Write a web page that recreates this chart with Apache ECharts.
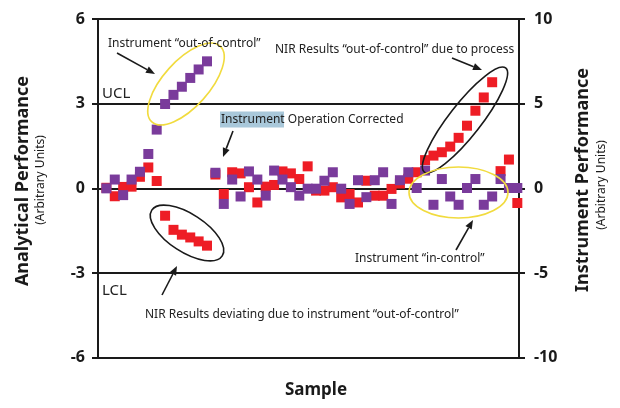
<!DOCTYPE html>
<html><head><meta charset="utf-8">
<script src="https://cdn.jsdelivr.net/npm/echarts@6/dist/echarts.min.js"></script>
<style>html,body{margin:0;padding:0;background:#fff}#c{width:620px;height:408px}</style>
</head><body><div id="c"></div>
<script>
// Sample numbers (x)
const samples = [1,2,3,4,5,6,7,8,9,10,11,12,13,14,15,16,17,18,19,20,21,22,23,24,25,
                 26,27,28,29,30,31,32,33,34,35,36,37,38,39,40,41,42,43,44,45,46,47,48,49,50];
// NIR results (red) – left axis, Analytical Performance
const analytical = [0.02,-0.28,0.05,0.06,0.41,0.74,0.26,-0.97,-1.47,-1.64,-1.74,-1.88,-2.03,0.49,-0.2,
                    0.57,0.53,0.04,-0.5,0.06,0.12,0.6,0.53,0.33,0.78,-0.08,-0.08,0.04,-0.32,-0.2,
                    -0.5,0.27,-0.26,-0.26,-0.02,0.17,0.34,0.57,1.0,1.16,1.28,1.48,1.79,2.22,2.75,
                    3.22,3.76,0.61,1.02,-0.52];
// Instrument (purple) – right axis, Instrument Performance
const instrument = [0,0.52,-0.4,0.52,0.98,2.03,3.47,4.98,5.52,6.0,6.52,7.02,7.5,0.92,-0.92,
                    0.52,-0.48,1.0,0.52,-0.43,1.05,0.52,0.07,-0.43,-0.02,-0.02,0.45,0.95,-0.02,-0.92,
                    0.48,-0.52,0.48,0.95,-0.92,0.48,0.95,0.02,1.05,-0.97,0.55,-0.48,-0.97,0.02,0.55,
                    -0.97,-0.48,0.55,0.02,0.02];
const leftTicks = [-6,-3,0,3,6];
const rightTicks = [-10,-5,0,5,10];

const FONT = '"Noto Sans", "DejaVu Sans", sans-serif';
const INK = '#1a1a1a';
const RED = '#ee1d25';
const PURPLE = '#7a3b9b';
const YELLOW = '#f1db3e';

function pairs(ys){ return samples.map((s,i)=>[s, ys[i]]); }

function arrow(x1,y1,x2,y2){
  const a = Math.atan2(y2-y1, x2-x1), L = 9, W = 3.6;
  const c = Math.cos(a), s = Math.sin(a);
  const bx = x2 - L*c, by = y2 - L*s;
  return [
    {type:'line', shape:{x1:x1,y1:y1,x2:bx,y2:by}, style:{stroke:INK, lineWidth:1.6}, silent:true},
    {type:'polygon', shape:{points:[[x2,y2],[bx+W*s,by-W*c],[bx-W*s,by+W*c]]}, style:{fill:INK}, silent:true}
  ];
}
function label(text,x,y,size){
  return {type:'text', x:x, y:y, silent:true, z:20,
    style:{text:text, fontSize:size||12, fontFamily:FONT, fill:'#222', textAlign:'left', textVerticalAlign:'middle'}};
}
function ellipse(cx,cy,rx,ry,rotDeg,color){
  return {type:'ellipse', x:cx, y:cy, rotation:rotDeg*Math.PI/180, shape:{cx:0,cy:0,rx:rx,ry:ry},
    style:{fill:'none', stroke:color, lineWidth:1.6}, silent:true, z:10};
}

const graphics = [].concat(
  [
    {type:'rect', shape:{x:220, y:111.5, width:64, height:16}, style:{fill:'#a9c8da'}, silent:true, z:15},
    label('Instrument Operation Corrected', 221, 119.5),
    label('Instrument “out-of-control”', 108, 43.5),
    label('NIR Results “out-of-control” due to process', 275, 49.5),
    label('Instrument “in-control”', 355, 258.5),
    label('NIR Results deviating due to instrument “out-of-control”', 145, 314.5),
    label('UCL', 102, 94, 15),
    label('LCL', 102, 291, 15),
    {type:'text', x:23, y:181, rotation:Math.PI/2, silent:true,
      style:{text:'Analytical Performance', fontSize:18, fontWeight:'bold', fontFamily:FONT, fill:INK, textAlign:'center', textVerticalAlign:'middle'}},
    {type:'text', x:41, y:180, rotation:Math.PI/2, silent:true,
      style:{text:'(Arbitrary Units)', fontSize:12, fontFamily:FONT, fill:INK, textAlign:'center', textVerticalAlign:'middle'}},
    {type:'text', x:583, y:180, rotation:Math.PI/2, silent:true,
      style:{text:'Instrument Performance', fontSize:18, fontWeight:'bold', fontFamily:FONT, fill:INK, textAlign:'center', textVerticalAlign:'middle'}},
    {type:'text', x:602, y:185, rotation:Math.PI/2, silent:true,
      style:{text:'(Arbitrary Units)', fontSize:12, fontFamily:FONT, fill:INK, textAlign:'center', textVerticalAlign:'middle'}},
    {type:'text', x:316, y:390, silent:true,
      style:{text:'Sample', fontSize:17, fontWeight:'bold', fontFamily:FONT, fill:INK, textAlign:'center', textVerticalAlign:'middle'}},
    ellipse(186, 84, 51, 23, 48, YELLOW),
    ellipse(465, 120, 66, 16, 52, INK),
    ellipse(187, 233, 42, 19, -33, INK),
    ellipse(458.5, 192.5, 49.5, 25.5, 0, YELLOW)
  ],
  arrow(117, 53, 155, 74),
  arrow(452, 58, 482, 70),
  arrow(233, 131, 223, 157),
  arrow(162, 295, 177, 266),
  arrow(456, 250, 473, 220)
);

const chart = echarts.init(document.getElementById('c'), null, {renderer:'canvas'});
chart.setOption({
  animation:false,
  backgroundColor:'#fff',
  grid:{left:98, right:101, top:19, bottom:50.3, containLabel:false},
  xAxis:{type:'value', min:0, max:50.2, axisLine:{show:true, onZero:false, lineStyle:{color:INK, width:2}},
         axisTick:{show:false}, axisLabel:{show:false}, splitLine:{show:false}},
  yAxis:[
    {type:'value', min:leftTicks[0], max:leftTicks[leftTicks.length-1], interval:3, position:'left',
     axisLine:{show:true, onZero:false, lineStyle:{color:INK, width:2}},
     axisTick:{show:true, inside:false, length:6, lineStyle:{color:INK, width:2}},
     axisLabel:{margin:13, fontSize:16, fontWeight:'bold', fontFamily:FONT, color:INK,
                formatter:v=>leftTicks.includes(v)?String(v):''},
     splitLine:{show:true, lineStyle:{color:INK, width:2}}},
    {type:'value', min:rightTicks[0], max:rightTicks[rightTicks.length-1], interval:5, position:'right',
     axisLine:{show:true, onZero:false, lineStyle:{color:INK, width:2}},
     axisTick:{show:true, inside:false, length:6, lineStyle:{color:INK, width:2}},
     axisLabel:{margin:15, fontSize:16, fontWeight:'bold', fontFamily:FONT, color:INK,
                formatter:v=>rightTicks.includes(v)?String(v):''},
     splitLine:{show:false}}
  ],
  series:[
    {name:'NIR Results', type:'scatter', yAxisIndex:0, symbol:'rect', symbolSize:10,
     itemStyle:{color:RED, opacity:1}, data:pairs(analytical), z:3},
    {name:'Instrument', type:'scatter', yAxisIndex:1, symbol:'rect', symbolSize:10,
     itemStyle:{color:PURPLE, opacity:1}, data:pairs(instrument), z:4}
  ],
  graphic:graphics
});
</script></body></html>
